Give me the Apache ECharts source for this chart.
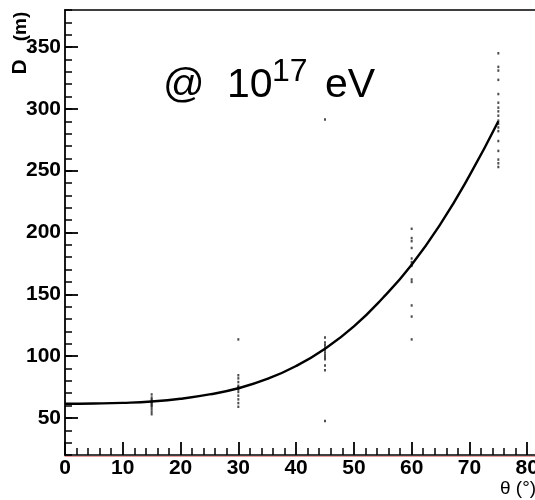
<!DOCTYPE html>
<html>
<head>
<meta charset="utf-8">
<script src="https://cdn.jsdelivr.net/npm/echarts@6/dist/echarts.min.js"></script>
<style>
html,body{margin:0;padding:0;background:#fff;}
#c{width:535px;height:500px;}
</style>
</head>
<body>
<div id="c"></div>
<script>
// ---- data ----
const fitAngles = [0, 5, 10, 15, 20, 25, 30, 35, 40, 45, 50, 55, 60, 65, 70, 75];
const fitValues = [61.5, 61.7, 62.2, 63.3, 65.5, 69, 74, 81.5, 92, 106, 124, 147, 174, 207, 246, 290];

const angle15 = 15;
const values15 = [69, 66.5, 65, 64, 63, 62, 61, 60, 59, 57, 55, 53];
const angle30 = 30;
const values30 = [113.5, 84.5, 82, 79, 76, 75, 74, 73, 71, 68, 65, 62, 59];
const angle45 = 45;
const values45 = [291.5, 115, 111, 109, 107, 105, 103, 101, 99, 97.5, 92.5, 88.5, 47.5];
const angle60 = 60;
const values60 = [203, 195.5, 193, 187.5, 179, 176, 174, 173, 162, 160, 141, 132, 113.5];
const angle75 = 75;
const values75 = [345, 334, 331, 323.5, 312, 305, 301, 298, 294.5, 290.5, 288, 285, 282, 274, 266, 259, 256, 253];

const xMin = 0, xMax = 90, xMajor = 10;
const yMin = 20, yMax = 380, yMinorStep = 10;
const yLabelMin = 50, yLabelMax = 350, yMajor = 50;

// ---- build ----
const FONT = '"Liberation Sans", Arial, Helvetica, sans-serif';
const scatterData = [];
[[angle15, values15], [angle30, values30], [angle45, values45], [angle60, values60], [angle75, values75]]
  .forEach(([a, vals]) => vals.forEach(v => scatterData.push([a, v])));
const fitData = fitAngles.map((a, i) => [a, fitValues[i]]);

const chart = echarts.init(document.getElementById('c'), null, {renderer: 'canvas'});
const gridLeft = 65, gridWidth = 520;
chart.setOption({
  animation: false,
  backgroundColor: '#ffffff',
  grid: [
    {left: gridLeft, width: gridWidth, top: 10, bottom: 45, outerBoundsMode: 'none', containLabel: false},
    {left: gridLeft, width: gridWidth, top: 47.1, bottom: 82.1, outerBoundsMode: 'none', containLabel: false}
  ],
  xAxis: [
    { // main bottom axis
      type: 'value', gridIndex: 0, min: xMin, max: xMax, interval: xMajor, position: 'bottom',
      axisLine: {show: true, lineStyle: {color: '#000', width: 1.5}},
      axisTick: {show: true, inside: true, length: 13, lineStyle: {color: '#000', width: 1.8}},
      minorTick: {show: true, splitNumber: 5, length: 7, lineStyle: {color: '#000', width: 1.5}},
      axisLabel: {color: '#000', fontFamily: FONT, fontWeight: 'bold', fontSize: 21, margin: 3,
        formatter: v => (v % 10 === 0 && v <= 80) ? String(v) : ''},
      splitLine: {show: false}
    },
    { // top frame line
      type: 'value', gridIndex: 0, min: xMin, max: xMax, position: 'top',
      axisLine: {show: true, lineStyle: {color: '#000', width: 1.5}},
      axisTick: {show: false}, axisLabel: {show: false}, splitLine: {show: false}
    },
    { // faint red line under the bottom axis
      type: 'value', gridIndex: 0, min: xMin, max: xMax, position: 'bottom', offset: 1.5,
      axisLine: {show: true, lineStyle: {color: '#e99a9a', width: 1.2}},
      axisTick: {show: false}, axisLabel: {show: false}, splitLine: {show: false}
    },
    { // helper for grid 2
      type: 'value', gridIndex: 1, min: xMin, max: xMax, show: false
    }
  ],
  yAxis: [
    { // minor ticks every 10
      type: 'value', gridIndex: 0, min: yMin, max: yMax, interval: yMinorStep,
      axisLine: {show: true, lineStyle: {color: '#000', width: 1.8}},
      axisTick: {show: true, inside: true, length: 7, lineStyle: {color: '#000', width: 1.5}},
      axisLabel: {show: false}, splitLine: {show: false}
    },
    { // major ticks and labels
      type: 'value', gridIndex: 1, min: yLabelMin, max: yLabelMax, interval: yMajor,
      axisLine: {show: false},
      axisTick: {show: true, inside: true, length: 13, lineStyle: {color: '#000', width: 1.8}},
      axisLabel: {color: '#000', fontFamily: FONT, fontWeight: 'bold', fontSize: 21, margin: 4},
      splitLine: {show: false}
    }
  ],
  series: [
    {
      type: 'scatter', xAxisIndex: 0, yAxisIndex: 0, data: scatterData,
      symbol: 'rect', symbolSize: [2, 2.5],
      itemStyle: {color: '#222'}, silent: true, z: 3
    },
    {
      type: 'line', xAxisIndex: 0, yAxisIndex: 0, data: fitData,
      smooth: 0.5, showSymbol: false, symbol: 'none',
      lineStyle: {color: '#000', width: 2.4}, silent: true, z: 4
    }
  ],
  graphic: [
    {type: 'text', x: 20, y: 67, rotation: Math.PI / 2,
      style: {text: 'D', font: 'bold 21px ' + FONT, fill: '#000', align: 'center', verticalAlign: 'middle'}},
    {type: 'text', x: 32, y: 50, rotation: Math.PI / 2,
      style: {text: 'c', font: 'bold 13px ' + FONT, fill: '#000', align: 'center', verticalAlign: 'middle'}},
    {type: 'text', x: 20.5, y: 26.5, rotation: Math.PI / 2,
      style: {text: '(m)', font: 'bold 19px ' + FONT, fill: '#000', align: 'center', verticalAlign: 'middle'}},
    {type: 'text', x: 163, y: 86,
      style: {text: '@', font: '41px ' + FONT, fill: '#000', align: 'left', verticalAlign: 'middle'}},
    {type: 'text', x: 227, y: 86,
      style: {text: '10', font: '41px ' + FONT, fill: '#000', align: 'left', verticalAlign: 'middle'}},
    {type: 'text', x: 272, y: 72,
      style: {text: '17', font: '32px ' + FONT, fill: '#000', align: 'left', verticalAlign: 'middle'}},
    {type: 'text', x: 325, y: 86,
      style: {text: 'eV', font: '41px ' + FONT, fill: '#000', align: 'left', verticalAlign: 'middle'}},
    {type: 'text', x: 500, y: 489,
      style: {text: 'θ (°)', font: '19px ' + FONT, fill: '#000', align: 'left', verticalAlign: 'middle'}}
  ]
});
</script>
</body>
</html>
